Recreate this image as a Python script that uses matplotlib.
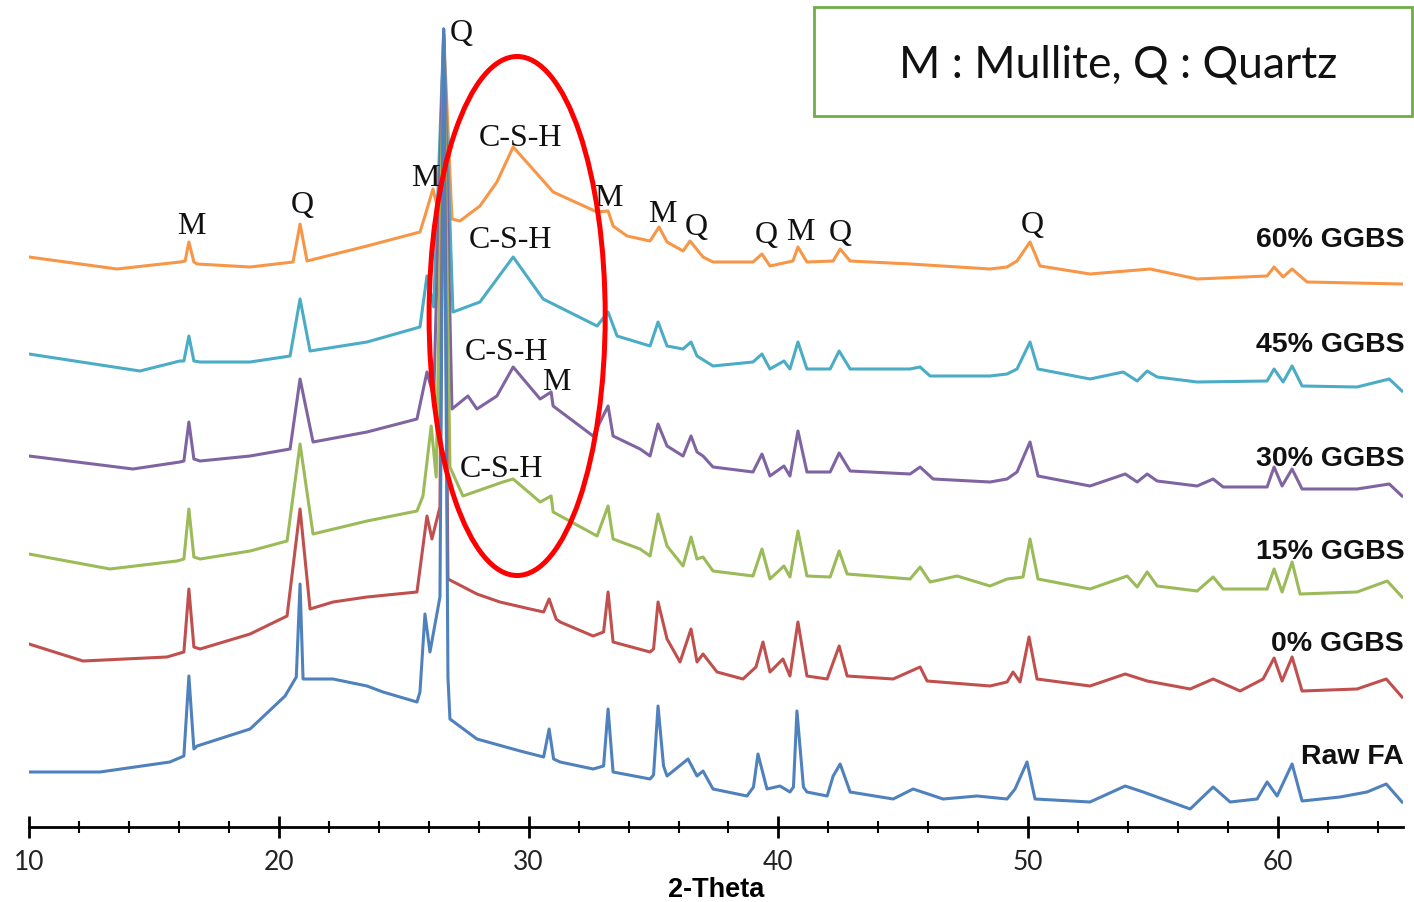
import matplotlib
matplotlib.use('Agg')
import matplotlib.pyplot as plt
from matplotlib.patches import Ellipse, Rectangle
from matplotlib.ticker import MultipleLocator
import numpy as np

### XRD patterns, (2-theta, intensity a.u.) pairs
raw_fa = [(10.0, 55), (12.84, 55), (15.64, 65), (16.2, 71), (16.4, 151), (16.6, 78), (16.73, 81),
          (18.85, 98), (20.25, 131), (20.7, 150), (20.85, 243), (20.97, 148), (22.17, 148), (23.53, 141),
          (24.17, 135), (25.53, 125), (25.65, 135), (25.85, 213), (26.05, 175), (26.45, 230), (26.6, 798),
          (26.77, 150), (26.85, 108), (27.93, 88), (29.66, 76), (30.6, 70), (30.82, 98), (31.0, 68),
          (31.26, 65), (32.58, 58), (33.0, 61), (33.18, 118), (33.38, 55), (34.86, 48), (35.0, 52),
          (35.18, 121), (35.4, 61), (35.54, 51), (36.38, 68), (36.74, 51), (36.98, 56), (37.38, 38),
          (38.74, 31), (39.0, 40), (39.18, 73), (39.54, 38), (40.06, 41), (40.46, 35), (40.6, 40),
          (40.74, 116), (41.0, 40), (41.14, 35), (41.95, 31), (42.19, 51), (42.47, 63), (42.87, 35),
          (44.59, 28), (45.39, 38), (46.59, 28), (47.95, 31), (49.15, 28), (49.47, 38), (49.95, 65),
          (50.27, 28), (52.47, 25), (53.88, 41), (54.6, 35), (56.48, 18), (57.4, 40), (58.08, 25),
          (59.16, 28), (59.56, 45), (59.96, 31), (60.56, 63), (60.96, 26), (62.48, 30), (63.56, 35),
          (64.33, 43), (64.96, 25)]

ggbs_0 = [(10.0, 63), (12.16, 46), (15.52, 50), (16.2, 55), (16.4, 118), (16.6, 60), (16.85, 58),
          (18.85, 73), (20.33, 91), (20.85, 198), (21.25, 98), (22.17, 105), (23.53, 110), (25.53, 115),
          (25.93, 191), (26.13, 168), (26.45, 200), (26.6, 668), (26.77, 128), (27.93, 113), (28.85, 105),
          (30.06, 98), (30.6, 95), (30.82, 108), (31.1, 88), (31.26, 85), (32.58, 71), (33.0, 75),
          (33.18, 115), (33.38, 65), (34.86, 55), (35.0, 58), (35.18, 105), (35.54, 68), (36.06, 45),
          (36.5, 78), (36.74, 45), (36.98, 53), (37.54, 35), (38.58, 28), (39.1, 40), (39.38, 65),
          (39.66, 35), (40.18, 48), (40.46, 31), (40.78, 85), (41.14, 31), (41.95, 28), (42.43, 61),
          (42.75, 31), (44.59, 28), (45.67, 40), (45.95, 26), (48.47, 21), (49.15, 25), (49.39, 35),
          (49.67, 25), (50.03, 70), (50.35, 28), (52.47, 21), (53.88, 33), (54.76, 26), (56.48, 18),
          (57.4, 28), (58.48, 16), (59.4, 28), (59.84, 49), (60.16, 26), (60.56, 50), (60.96, 16),
          (63.16, 18), (64.33, 28), (64.96, 10)]

ggbs_15 = [(10.0, 63), (13.24, 48), (15.92, 56), (16.2, 58), (16.4, 108), (16.6, 60), (16.85, 58),
           (18.85, 66), (20.33, 76), (20.85, 173), (21.37, 83), (23.53, 96), (25.53, 106), (25.77, 121),
           (26.1, 191), (26.3, 140), (26.6, 573), (26.85, 150), (27.37, 121), (28.97, 135), (29.38, 138),
           (30.46, 115), (30.9, 121), (30.98, 105), (32.74, 81), (33.18, 111), (33.38, 78), (34.46, 68),
           (34.86, 61), (35.18, 103), (35.54, 71), (36.18, 51), (36.5, 80), (36.74, 58), (36.98, 60),
           (37.38, 46), (38.98, 41), (39.34, 68), (39.66, 38), (40.22, 51), (40.46, 40), (40.78, 86),
           (41.14, 41), (42.07, 40), (42.43, 66), (42.75, 43), (45.27, 38), (45.67, 50), (46.07, 35),
           (47.15, 41), (48.47, 31), (49.15, 38), (49.79, 40), (50.07, 78), (50.39, 38), (52.47, 28),
           (53.96, 41), (54.36, 30), (54.76, 45), (55.16, 31), (56.76, 26), (57.4, 40), (57.8, 28),
           (59.56, 28), (59.84, 48), (60.16, 25), (60.56, 55), (60.88, 23), (63.16, 25), (64.37, 36),
           (64.96, 20)]

ggbs_30 = [(10.0, 61), (14.16, 48), (16.04, 55), (16.2, 56), (16.4, 95), (16.6, 58), (16.85, 56),
           (18.85, 61), (20.45, 68), (20.85, 138), (21.37, 75), (23.53, 85), (25.53, 98), (25.93, 145),
           (26.2, 120), (26.6, 488), (26.93, 108), (27.57, 121), (27.93, 108), (28.73, 121), (29.38, 150),
           (30.46, 118), (30.9, 125), (30.98, 111), (32.58, 81), (33.18, 111), (33.38, 81), (34.46, 68),
           (34.86, 61), (35.18, 93), (35.54, 71), (36.18, 61), (36.5, 81), (36.74, 65), (36.98, 61),
           (37.38, 50), (38.98, 45), (39.34, 63), (39.66, 41), (40.22, 51), (40.46, 41), (40.78, 86),
           (41.14, 45), (42.07, 45), (42.43, 64), (42.87, 46), (45.27, 43), (45.67, 50), (46.19, 38),
           (48.47, 35), (49.15, 38), (49.55, 45), (50.07, 75), (50.39, 41), (52.47, 31), (53.88, 43),
           (54.36, 35), (54.76, 43), (55.16, 36), (56.76, 31), (57.4, 38), (57.8, 30), (59.56, 30),
           (59.84, 50), (60.16, 31), (60.56, 48), (60.96, 28), (63.16, 28), (64.45, 33), (64.96, 21)]

ggbs_45 = [(10.0, 63), (14.44, 46), (16.04, 56), (16.2, 56), (16.4, 81), (16.6, 56), (16.85, 55),
           (18.85, 55), (20.45, 61), (20.85, 118), (21.25, 66), (23.53, 75), (25.65, 90), (25.93, 141),
           (26.2, 110), (26.6, 383), (26.97, 105), (28.05, 115), (29.38, 160), (30.58, 118), (32.74, 91),
           (33.18, 105), (33.54, 81), (34.86, 71), (35.18, 95), (35.54, 71), (36.18, 68), (36.5, 75),
           (36.74, 61), (37.38, 51), (38.98, 55), (39.34, 63), (39.66, 48), (40.22, 56), (40.46, 48),
           (40.78, 75), (41.14, 48), (42.07, 48), (42.43, 66), (42.87, 48), (45.27, 48), (45.67, 50),
           (46.07, 41), (48.47, 41), (49.15, 43), (49.55, 48), (50.07, 75), (50.39, 48), (52.47, 38),
           (53.8, 45), (54.36, 36), (54.76, 46), (55.16, 40), (56.76, 35), (59.56, 36), (59.84, 48),
           (60.2, 35), (60.56, 51), (60.96, 31), (63.16, 30), (64.45, 38), (64.96, 26)]

ggbs_60 = [(10.0, 60), (13.52, 48), (16.04, 55), (16.25, 56), (16.4, 75), (16.6, 55), (16.73, 53),
           (18.85, 50), (20.57, 55), (20.85, 93), (21.13, 56), (23.53, 71), (25.65, 85), (25.85, 101),
           (26.17, 128), (26.4, 105), (26.6, 283), (26.93, 98), (27.25, 96), (28.05, 111), (28.73, 135),
           (29.38, 170), (30.06, 151), (30.98, 125), (32.74, 105), (33.18, 106), (33.38, 91), (33.94, 81),
           (34.86, 76), (35.22, 90), (35.54, 75), (36.18, 66), (36.46, 76), (36.98, 60), (37.38, 55),
           (38.98, 55), (39.34, 63), (39.66, 51), (40.58, 56), (40.78, 70), (41.14, 55), (42.19, 56),
           (42.47, 68), (42.87, 56), (45.27, 53), (48.47, 48), (49.15, 50), (49.55, 56), (50.07, 75),
           (50.47, 51), (52.47, 43), (54.88, 48), (56.76, 38), (59.56, 41), (59.84, 50), (60.2, 40),
           (60.56, 48), (61.16, 35), (64.96, 33)]

sample_names = ['Raw FA', '0% GGBS', '15% GGBS', '30% GGBS', '45% GGBS', '60% GGBS']
patterns = [raw_fa, ggbs_0, ggbs_15, ggbs_30, ggbs_45, ggbs_60]

### vertical stacking and colours
offsets = [0, 120, 210, 310, 410, 510]
colors = ['#4F81BD', '#C0504D', '#9BBB59', '#8064A2', '#4BACC6', '#F79646']

fig = plt.figure(figsize=(14.14, 9.03), dpi=100)
ax = fig.add_axes([29/1414, 75/903, 1374/1414, 828/903])

# draw top pattern first so Raw FA ends up on top
for pat, off, col in reversed(list(zip(patterns, offsets, colors))):
    arr = np.array(pat, dtype=float)
    ax.plot(arr[:, 0], arr[:, 1] + off, color=col, lw=2.2, solid_joinstyle='round')

ax.set_xlim(10, 65)
ax.set_ylim(0, 828)

### sample labels on the right
label_y = [71, 184, 276, 369, 483, 588]
for name, y in zip(sample_names, label_y):
    ax.text(65.05, y, name, ha='right', va='center', fontsize=20.5, fontweight='bold',
            family='Liberation Sans', color='#111111', zorder=6)

### phase labels
peak_labels = [('M', 16.5, 602), ('Q', 20.93, 623), ('M', 25.85, 650), ('Q', 27.3, 795),
               ('M', 33.2, 629), ('M', 35.35, 614), ('Q', 36.7, 601), ('Q', 39.5, 592),
               ('M', 40.86, 595), ('Q', 42.47, 595), ('Q', 50.15, 602), ('M', 31.1, 446),
               ('C-S-H', 29.66, 689), ('C-S-H', 29.26, 587), ('C-S-H', 29.13, 476), ('C-S-H', 28.9, 358)]
for txt, x, y in peak_labels:
    ax.text(x, y, txt, ha='center', va='center', fontsize=23, family='Liberation Serif',
            color='#111111', zorder=6)

ax.add_patch(Ellipse((29.54, 511), 7.05, 519, fill=False, ec='#FF0000', lw=3.6, zorder=7))

### axis
for s in ['left', 'right', 'top']:
    ax.spines[s].set_visible(False)
ax.spines['bottom'].set_linewidth(2)
ax.set_yticks([])
ax.set_xticks(range(10, 61, 10))
ax.xaxis.set_minor_locator(MultipleLocator(2))
ax.tick_params(axis='x', which='major', direction='inout', length=16, width=2, pad=8,
               labelsize=19, labelcolor='#222222')
ax.tick_params(axis='x', which='minor', direction='inout', length=8, width=1.5)
for lab in ax.get_xticklabels():
    lab.set_family('Lato')
ax.set_xlabel('2-Theta', fontsize=19.5, fontweight='bold', family='Liberation Sans', labelpad=1)

### key box
fig.add_artist(Rectangle((814/1414, 1 - 117/903), 598/1414, 109/903, transform=fig.transFigure,
                         facecolor='white', edgecolor='#70AD47', lw=2))
fig.text(1118/1414, 1 - 65/903, 'M : Mullite, Q : Quartz', ha='center', va='center',
         fontsize=32, family='Lato', color='#111111')

fig.savefig('out.png', dpi=100)
